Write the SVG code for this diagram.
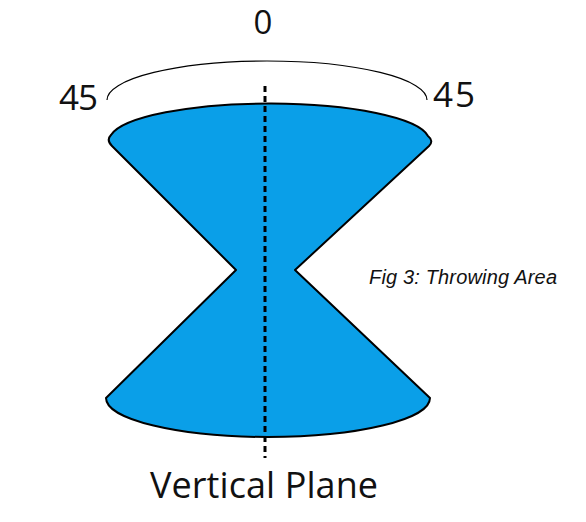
<svg xmlns="http://www.w3.org/2000/svg" width="586" height="522" viewBox="0 0 586 522">
<style>
.lbl{font-family:"Open Sans","Noto Sans",sans-serif;fill:#111}
.cap{font-family:"Liberation Sans",Arial,sans-serif;font-style:italic;fill:#111}
</style>
<rect width="586" height="522" fill="#fff"/>
<g id="throwing-area">
<path d="M236,270 L112,146 Q106,140 111,135 A160,37 0 0 1 428,136 Q434,141 429,146 L295,270 L430,398 A162,39 0 0 1 106,398 Z" fill="#0a9fe8" stroke="#000" stroke-width="2" stroke-linejoin="round"/>
</g>
<g id="bracket">
<path d="M107,100 A160,39 0 0 1 427,100" fill="none" stroke="#000" stroke-width="1.2"/>
</g>
<g id="connectors">
<line x1="265" y1="86" x2="265" y2="458" stroke="#000" stroke-width="3" stroke-dasharray="6,4"/>
</g>
<g id="labels">
<text class="lbl" x="263" y="34" font-size="33" text-anchor="middle">0</text>
<text class="lbl" x="59" y="110" font-size="35" textLength="39">45</text>
<text class="lbl" x="433" y="107" font-size="35" textLength="42">45</text>
<text class="lbl" x="150" y="498" font-size="36" textLength="228">Vertical Plane</text>
<text class="cap" x="369" y="284" font-size="20" textLength="188">Fig 3: Throwing Area</text>
</g>
</svg>
